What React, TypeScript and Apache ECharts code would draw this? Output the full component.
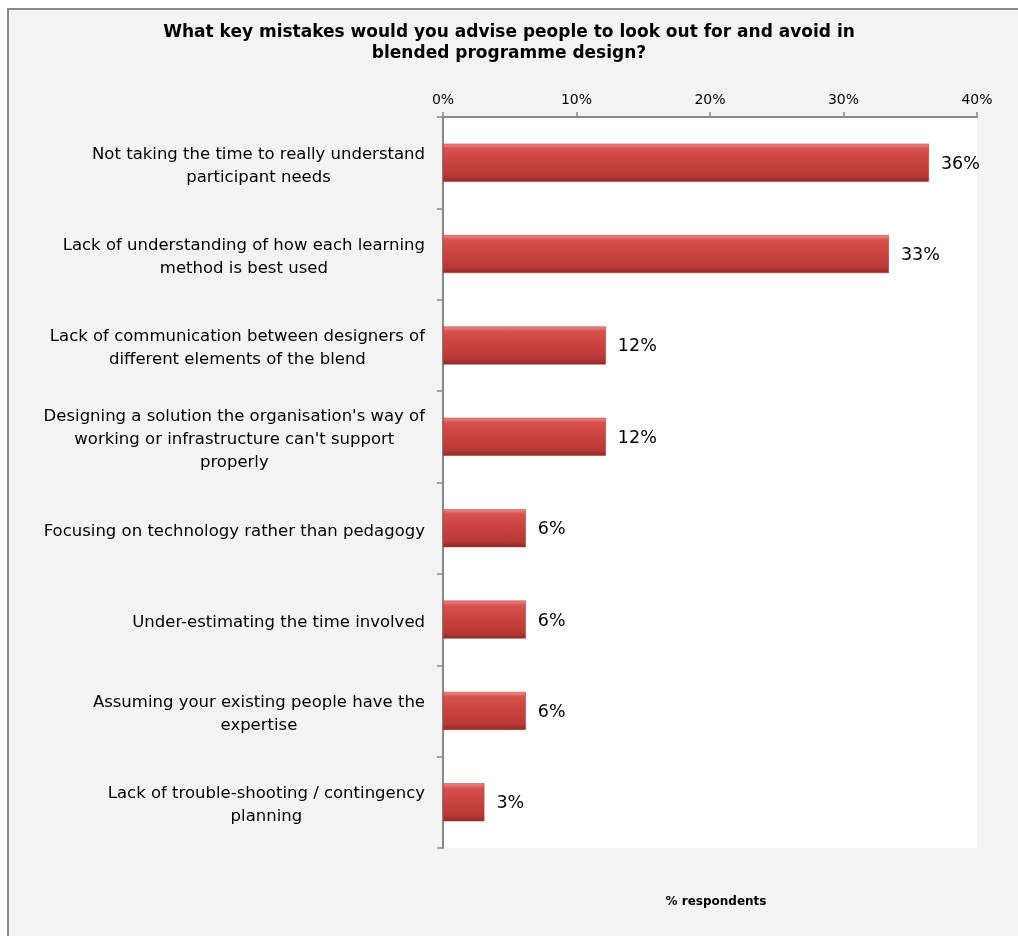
import React, { useEffect, useRef } from "react";
import * as echarts from "echarts";

const categories: string[] = [
  "Not taking the time to really understand\nparticipant needs",
  "Lack of understanding of how each learning\nmethod is best used",
  "Lack of communication between designers of\ndifferent elements of the blend",
  "Designing a solution the organisation's way of\nworking or infrastructure can't support\nproperly",
  "Focusing on technology rather than pedagogy",
  "Under-estimating the time involved",
  "Assuming your existing people have the\nexpertise",
  "Lack of trouble-shooting / contingency\nplanning",
];

const values: number[] = [36.4, 33.4, 12.2, 12.2, 6.2, 6.2, 6.2, 3.1];

const axisTicks: number[] = [0, 10, 20, 30, 40];

const titleText =
  "What key mistakes would you advise people to look out for and avoid in\nblended programme design?";
const axisTitle = "% respondents";

const FONT = "'DejaVu Sans', sans-serif";

export default function App() {
  const ref = useRef<HTMLDivElement>(null);

  useEffect(() => {
    if (!ref.current) return;
    const chart = echarts.init(ref.current, undefined, { renderer: "svg" });
    const option: any = {
      animation: false,
      graphic: [
        {
          type: "rect",
          z: -100,
          silent: true,
          shape: { x: 8, y: 9, width: 1030, height: 950 },
          style: { fill: "#f2f3f2", stroke: "#8a8a8a", lineWidth: 2 },
        },
        {
          type: "text",
          x: 716,
          y: 901,
          style: {
            text: axisTitle,
            align: "center",
            verticalAlign: "middle",
            font: `bold 12px ${FONT}`,
            fill: "#000",
          },
        },
      ],
      title: {
        text: titleText,
        left: "center",
        top: 20,
        padding: [0, 0, 0, 18],
        textStyle: {
          fontFamily: FONT,
          fontSize: 17,
          fontWeight: "bold",
          color: "#000",
          lineHeight: 21,
        },
      },
      grid: {
        left: 443,
        right: 41,
        top: 117,
        bottom: 88,
        show: true,
        backgroundColor: "#ffffff",
        borderWidth: 0,
        containLabel: false,
      },
      xAxis: {
        type: "value",
        position: "top",
        min: axisTicks[0],
        max: axisTicks[axisTicks.length - 1],
        interval: axisTicks[1] - axisTicks[0],
        splitLine: { show: false },
        axisLine: { show: true, lineStyle: { color: "#888888", width: 2 } },
        axisTick: { show: true, length: 5, lineStyle: { color: "#888888", width: 1.5 } },
        axisLabel: {
          formatter: "{value}%",
          fontFamily: FONT,
          fontSize: 14,
          color: "#000",
          margin: 11,
        },
      },
      yAxis: {
        type: "category",
        inverse: true,
        data: categories,
        axisLine: { show: true, lineStyle: { color: "#888888", width: 2 } },
        axisTick: { show: true, length: 6, alignWithLabel: false, lineStyle: { color: "#888888", width: 1.5 } },
        axisLabel: {
          margin: 18,
          interval: 0,
          padding: [4, 0, 0, 0],
          formatter: (v: string) =>
            v
              .split("\n")
              .map((l) => `{c|${l}}`)
              .join("\n"),
          rich: {
            c: {
              align: "center",
              fontFamily: FONT,
              fontSize: 16.5,
              lineHeight: 23,
              color: "#000",
            },
          },
        },
      },
      series: [
        {
          type: "bar",
          data: values,
          barWidth: 38,
          itemStyle: {
            color: new echarts.graphic.LinearGradient(0, 0, 0, 1, [
              { offset: 0, color: "#f08b88" },
              { offset: 0.12, color: "#d6524f" },
              { offset: 0.5, color: "#c84340" },
              { offset: 0.85, color: "#b93835" },
              { offset: 1, color: "#8c2a28" },
            ]),
            borderColor: "#a33331",
            borderWidth: 0.5,
          },
          label: {
            show: true,
            position: "right",
            distance: 12,
            formatter: (p: any) => `${Math.round(p.value)}%`,
            fontFamily: FONT,
            fontSize: 17.5,
            color: "#000",
          },
        },
      ],
    };
    chart.setOption(option);
    return () => chart.dispose();
  }, []);

  return (
    <div
      ref={ref}
      style={{ position: "fixed", left: 0, top: 0, width: 1018, height: 936 }}
    />
  );
}
